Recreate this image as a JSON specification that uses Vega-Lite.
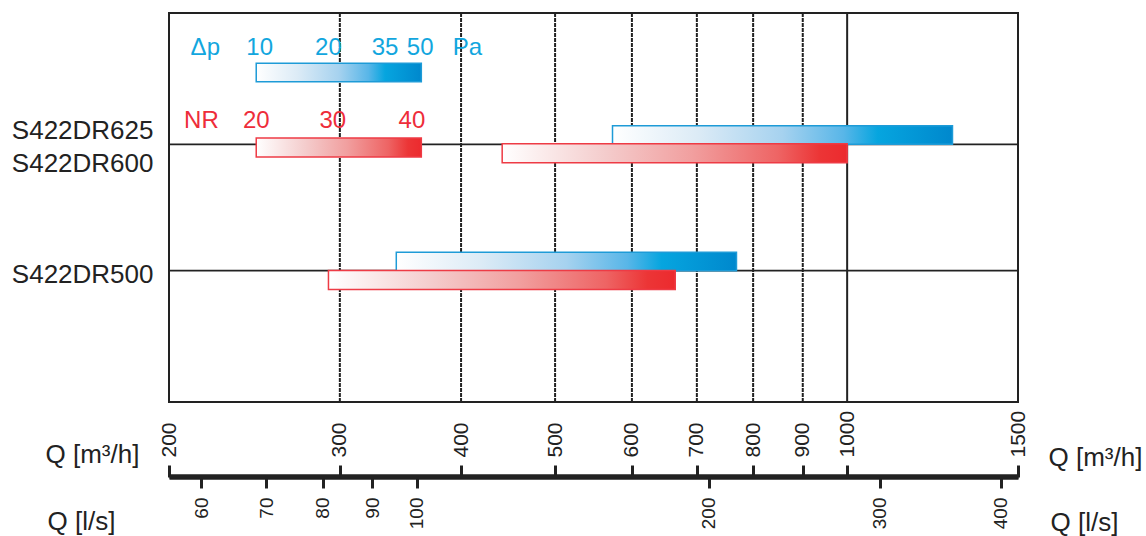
{
  "$schema": "https://vega.github.io/schema/vega-lite/v6.json",
  "width": 849,
  "height": 389,
  "autosize": {"type": "none"},
  "padding": {"left": 169, "top": 13, "right": 128, "bottom": 134},
  "config": {
    "font": "Liberation Sans",
    "view": {"stroke": "#222222", "strokeWidth": 2},
    "axis": {"labelOverlap": false, "labelFlush": false, "labelBound": false, "titleFontWeight": "normal", "titleColor": "#222222", "labelColor": "#222222"}
  },
  "resolve": {"scale": {"x": "independent"}, "axis": {"x": "independent"}},
  "layer": [
    {
      "data": {"values": [{"q": 300}, {"q": 400}, {"q": 500}, {"q": 600}, {"q": 700}, {"q": 800}, {"q": 900}, {"q": 1000}]},
      "mark": {"type": "rule", "color": "#222222", "strokeWidth": 2},
      "encoding": {
        "x": {
          "field": "q", "type": "quantitative",
          "scale": {"type": "log", "domain": [200, 1500], "nice": false},
          "axis": {
            "orient": "top", "offset": -464, "grid": false,
            "values": [200, 300, 400, 500, 600, 700, 800, 900, 1000, 1500],
            "format": "d",
            "domain": true, "domainColor": "#222222", "domainWidth": 4.5,
            "ticks": true, "tickSize": 12, "tickWidth": 3, "tickColor": "#222222",
            "labelAngle": 270, "labelAlign": "left", "labelBaseline": "middle",
            "labelFontSize": 21, "labelPadding": 8,
            "title": "Q [m³/h]", "titleFontSize": 26, "titleX": -124, "titleY": -15,
            "titleAlign": "left", "titleBaseline": "alphabetic", "titleAngle": 0
          }
        },
        "strokeDash": {"condition": {"test": "datum.q == 1000", "value": [1, 0]}, "value": [4, 1]}
      }
    },
    {
      "data": {"values": [{"lane": 1}, {"lane": 2}]},
      "mark": {"type": "rule", "color": "#222222", "strokeWidth": 1.8},
      "encoding": {
        "y": {
          "field": "lane", "type": "quantitative",
          "scale": {"domain": [0, 3], "reverse": true, "nice": false, "zero": false},
          "axis": {
            "values": [0.89, 1.149, 2.03],
            "labelExpr": "datum.value < 1 ? 'S422DR625' : datum.value < 1.5 ? 'S422DR600' : 'S422DR500'",
            "title": null, "ticks": false, "domain": false, "grid": false,
            "labelFontSize": 26, "labelPadding": 16, "labelBaseline": "middle"
          }
        }
      }
    },
    {
      "data": {"values": [
        {"series": "legend", "q_min": 246, "q_max": 364, "lane": 0.432},
        {"series": "S422DR625", "q_min": 573, "q_max": 1284, "lane": 0.927},
        {"series": "S422DR500", "q_min": 343, "q_max": 769, "lane": 1.928}
      ]},
      "mark": {
        "type": "bar", "height": 18.5, "stroke": "#1e9bd7", "strokeWidth": 1.5,
        "fill": {"gradient": "linear", "x1": 0, "y1": 0, "x2": 1, "y2": 0, "stops": [
          {"offset": 0, "color": "#ffffff"},
          {"offset": 0.25, "color": "#dcebf6"},
          {"offset": 0.5, "color": "#a6d2ef"},
          {"offset": 0.68, "color": "#58b6e8"},
          {"offset": 0.78, "color": "#06a5df"},
          {"offset": 1, "color": "#0088cd"}
        ]}
      },
      "encoding": {
        "x": {
          "field": "q_min", "type": "quantitative",
          "scale": {"type": "log", "domain": [200, 1500], "nice": false},
          "axis": {
            "orient": "top", "offset": -464, "grid": false, "labels": false, "ticks": false, "domain": false,
            "title": "Q [m³/h]", "titleFontSize": 26, "titleX": 879, "titleY": -12,
            "titleAlign": "left", "titleBaseline": "alphabetic", "titleAngle": 0
          }
        },
        "x2": {"field": "q_max"},
        "y": {
          "field": "lane", "type": "quantitative",
          "scale": {"domain": [0, 3], "reverse": true, "nice": false, "zero": false},
          "axis": {
            "values": [0.89, 1.149, 2.03],
            "labelExpr": "datum.value < 1 ? 'S422DR625' : datum.value < 1.5 ? 'S422DR600' : 'S422DR500'",
            "title": null, "ticks": false, "domain": false, "grid": false,
            "labelFontSize": 26, "labelPadding": 16, "labelBaseline": "middle"
          }
        }
      }
    },
    {
      "data": {"values": [
        {"series": "legend", "q_min": 246, "q_max": 364, "lane": 1.026},
        {"series": "S422DR600", "q_min": 441, "q_max": 1000, "lane": 1.071},
        {"series": "S422DR500", "q_min": 292, "q_max": 665, "lane": 2.074}
      ]},
      "mark": {
        "type": "bar", "height": 19, "stroke": "#ee3b45", "strokeWidth": 1.5,
        "fill": {"gradient": "linear", "x1": 0, "y1": 0, "x2": 1, "y2": 0, "stops": [
          {"offset": 0, "color": "#ffffff"},
          {"offset": 0.3, "color": "#f4cccc"},
          {"offset": 0.55, "color": "#f19f9f"},
          {"offset": 0.8, "color": "#ee6464"},
          {"offset": 0.92, "color": "#ec3536"},
          {"offset": 1, "color": "#ec2a2e"}
        ]}
      },
      "encoding": {
        "x": {
          "field": "q_min", "type": "quantitative",
          "scale": {"type": "log", "domain": [200, 1500], "nice": false},
          "axis": {
            "orient": "bottom", "offset": 74, "grid": false,
            "values": [216, 252, 288, 324, 360, 720, 1080, 1440],
            "labelExpr": "format(datum.value / 3.6, 'd')",
            "domain": true, "domainColor": "#222222", "domainWidth": 4.5,
            "ticks": true, "tickSize": 12, "tickWidth": 3, "tickColor": "#222222",
            "labelAngle": 270, "labelAlign": "right", "labelBaseline": "middle",
            "labelFontSize": 19, "labelPadding": 9,
            "title": "Q [l/s]", "titleFontSize": 26, "titleX": -122, "titleY": 53,
            "titleAlign": "left", "titleBaseline": "alphabetic", "titleAngle": 0
          }
        },
        "x2": {"field": "q_max"},
        "y": {
          "field": "lane", "type": "quantitative",
          "scale": {"domain": [0, 3], "reverse": true, "nice": false, "zero": false},
          "axis": {
            "values": [0.89, 1.149, 2.03],
            "labelExpr": "datum.value < 1 ? 'S422DR625' : datum.value < 1.5 ? 'S422DR600' : 'S422DR500'",
            "title": null, "ticks": false, "domain": false, "grid": false,
            "labelFontSize": 26, "labelPadding": 16, "labelBaseline": "middle"
          }
        }
      }
    },
    {
      "data": {"values": [
        {"text": "Δp", "q": 218, "lane": 0.295, "group": "dp"},
        {"text": "10", "q": 248, "lane": 0.295, "group": "dp"},
        {"text": "20", "q": 292, "lane": 0.295, "group": "dp"},
        {"text": "35", "q": 334, "lane": 0.295, "group": "dp"},
        {"text": "50", "q": 363, "lane": 0.295, "group": "dp"},
        {"text": "Pa", "q": 406, "lane": 0.295, "group": "dp"},
        {"text": "NR", "q": 216, "lane": 0.87, "group": "nr"},
        {"text": "20", "q": 246, "lane": 0.87, "group": "nr"},
        {"text": "30", "q": 295, "lane": 0.87, "group": "nr"},
        {"text": "40", "q": 356, "lane": 0.87, "group": "nr"}
      ]},
      "mark": {"type": "text", "fontSize": 24, "align": "center", "baseline": "alphabetic"},
      "encoding": {
        "x": {
          "field": "q", "type": "quantitative",
          "scale": {"type": "log", "domain": [200, 1500], "nice": false},
          "axis": {
            "orient": "bottom", "offset": 74, "grid": false, "labels": false, "ticks": false, "domain": false,
            "title": "Q [l/s]", "titleFontSize": 26, "titleX": 881, "titleY": 54,
            "titleAlign": "left", "titleBaseline": "alphabetic", "titleAngle": 0
          }
        },
        "y": {
          "field": "lane", "type": "quantitative",
          "scale": {"domain": [0, 3], "reverse": true, "nice": false, "zero": false},
          "axis": {
            "values": [0.89, 1.149, 2.03],
            "labelExpr": "datum.value < 1 ? 'S422DR625' : datum.value < 1.5 ? 'S422DR600' : 'S422DR500'",
            "title": null, "ticks": false, "domain": false, "grid": false,
            "labelFontSize": 26, "labelPadding": 16, "labelBaseline": "middle"
          }
        },
        "text": {"field": "text"},
        "color": {"field": "group", "type": "nominal", "scale": {"domain": ["dp", "nr"], "range": ["#12a6de", "#ee2d3a"]}, "legend": null}
      }
    }
  ]
}
